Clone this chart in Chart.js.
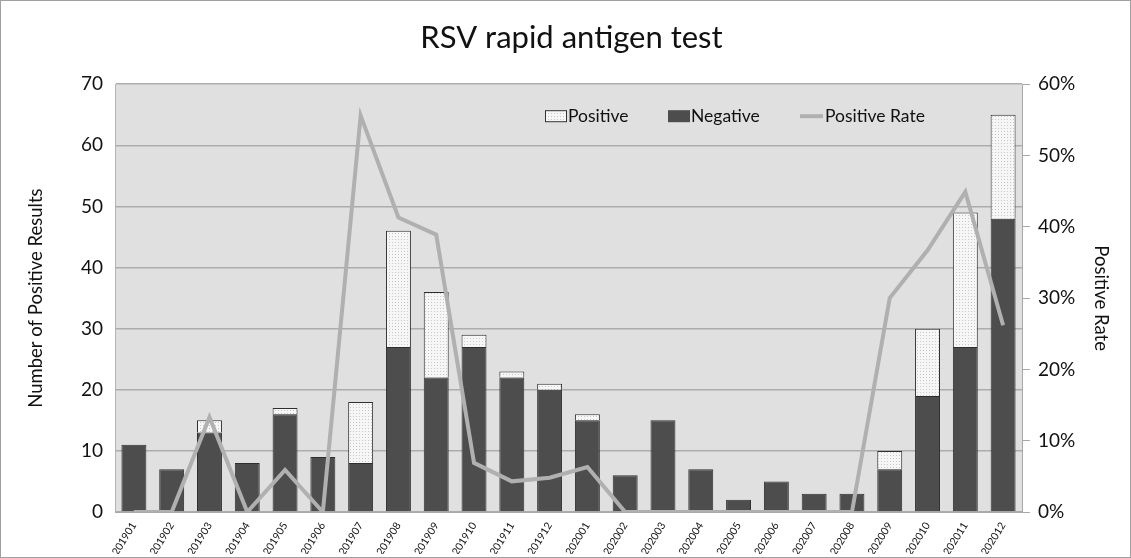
<!DOCTYPE html>
<html>
<head>
<meta charset="utf-8">
<script src="https://cdn.jsdelivr.net/npm/chart.js@4"></script>
<style>
  body { margin: 0; background: #fff; }
  #wrap { width: 1131px; height: 558px; box-sizing: border-box; border: 1px solid #a0a0a0; }
</style>
</head>
<body>
<div id="wrap"><canvas id="myChart" width="1129" height="556"></canvas></div>
<script>
// data
const months = ["201901","201902","201903","201904","201905","201906","201907","201908","201909","201910","201911","201912",
                "202001","202002","202003","202004","202005","202006","202007","202008","202009","202010","202011","202012"];
const negative = [11, 7, 13, 8, 16, 9, 8, 27, 22, 27, 22, 20, 15, 6, 15, 7, 2, 5, 3, 3, 7, 19, 27, 48];
const positive = [0, 0, 2, 0, 1, 0, 10, 19, 14, 2, 1, 1, 1, 0, 0, 0, 0, 0, 0, 0, 3, 11, 22, 17];
const positiveRate = [0, 0, 13.3, 0, 5.9, 0, 55.6, 41.3, 38.9, 6.9, 4.3, 4.8, 6.3, 0, 0, 0, 0, 0, 0, 0, 30, 36.7, 44.9, 26.2];

const FONT = "Lato, 'Open Sans', sans-serif";

// dotted fill for the positive part
function dotPattern() {
    const c = document.createElement("canvas");
    c.width = 3; c.height = 3;
    const g = c.getContext("2d");
    g.fillStyle = "#f6f6f6";
    g.fillRect(0, 0, 3, 3);
    g.fillStyle = "#c8c8c8";
    g.fillRect(1, 1, 1, 1);
    return g.createPattern(c, "repeat");
}
const dots = dotPattern();

// grey plot background
const plotBg = {
    id: "plotBg",
    beforeDraw(chart) {
        const { ctx, chartArea: a } = chart;
        ctx.save();
        ctx.fillStyle = "#e0e0e0";
        ctx.fillRect(a.left, a.top, a.right - a.left, a.bottom - a.top);
        ctx.restore();
    }
};

// legend drawn inside the plot, like the original
const innerLegend = {
    id: "innerLegend",
    afterDraw(chart) {
        const { ctx, chartArea: a } = chart;
        const y = a.top + 32;
        ctx.save();
        ctx.font = "17.5px " + FONT;
        ctx.textBaseline = "middle";
        let x = a.left + 430;
        // Positive
        ctx.fillStyle = dots;
        ctx.fillRect(x, y - 6, 22, 12);
        ctx.strokeStyle = "#333";
        ctx.lineWidth = 1;
        ctx.strokeRect(x + 0.5, y - 5.5, 21, 11);
        ctx.fillStyle = "#111";
        ctx.fillText("Positive", x + 23, y);
        // Negative
        x = a.left + 553;
        ctx.fillStyle = "#4d4d4d";
        ctx.fillRect(x, y - 6, 22, 12);
        ctx.fillStyle = "#111";
        ctx.fillText("Negative", x + 23, y);
        // Positive Rate
        x = a.left + 685;
        ctx.strokeStyle = "#b0b0b0";
        ctx.lineWidth = 4;
        ctx.beginPath();
        ctx.moveTo(x, y);
        ctx.lineTo(x + 23, y);
        ctx.stroke();
        ctx.fillStyle = "#111";
        ctx.fillText("Positive Rate", x + 25, y);
        ctx.restore();
    }
};

const ctx = document.getElementById("myChart");
const myChart = new Chart(ctx, {
    data: {
        labels: months,
        datasets: [
            {
                type: "line",
                label: "Positive Rate",
                data: positiveRate,
                yAxisID: "y1",
                borderColor: "#b0b0b0",
                borderWidth: 4,
                pointRadius: 0,
                tension: 0,
                order: 0,
            },
            {
                type: "bar",
                label: "Negative",
                data: negative,
                backgroundColor: "#4d4d4d",
                borderColor: "#2e2e2e",
                borderWidth: 1,
                stack: "s",
                order: 1,
            },
            {
                type: "bar",
                label: "Positive",
                data: positive,
                backgroundColor: dots,
                borderColor: "#2e2e2e",
                borderWidth: 1,
                stack: "s",
                order: 1,
            },
        ],
    },
    options: {
        responsive: false,
        animation: false,
        layout: { padding: { left: 20, right: 8, top: 8, bottom: 3 } },
        datasets: { bar: { categoryPercentage: 1, barPercentage: 0.66 } },
        plugins: {
            legend: { display: false },
            tooltip: { enabled: false },
            title: {
                display: true,
                text: "RSV rapid antigen test",
                color: "#111",
                font: { family: FONT, size: 31, weight: "normal" },
                padding: { top: 10, bottom: 28 },
            },
        },
        scales: {
            x: {
                stacked: true,
                grid: { display: false },
                border: { color: "#a8a8a8" },
                ticks: {
                    color: "#111",
                    font: { family: FONT, size: 10.5 },
                    minRotation: 58,
                    maxRotation: 58,
                    padding: 0,
                },
                afterFit(scale) { scale.height = 42; },
            },
            y: {
                stacked: true,
                min: 0,
                max: 70,
                position: "left",
                grid: { color: "#acacac", lineWidth: 1.5, drawTicks: false },
                border: { color: "#b4b4b4" },
                ticks: { stepSize: 10, color: "#111", font: { family: FONT, size: 19 }, padding: 12 },
                title: { display: true, text: "Number of Positive Results", color: "#111", font: { family: FONT, size: 18.5 }, padding: { bottom: 4 } },
                afterFit(scale) { scale.width = 94; },
            },
            y1: {
                min: 0,
                max: 60,
                position: "right",
                grid: { drawOnChartArea: false, drawTicks: true, tickLength: 8, color: "#a8a8a8" },
                border: { color: "#a8a8a8" },
                ticks: {
                    stepSize: 10,
                    color: "#111",
                    font: { family: FONT, size: 19 },
                    padding: 8,
                    callback: (v) => v + "%",
                },
                title: { display: true, text: "Positive Rate", color: "#111", font: { family: FONT, size: 18.5 }, padding: { top: 10 } },
                afterFit(scale) { scale.width = 100; },
            },
        },
    },
    plugins: [plotBg, innerLegend],
});
</script>
</body>
</html>
